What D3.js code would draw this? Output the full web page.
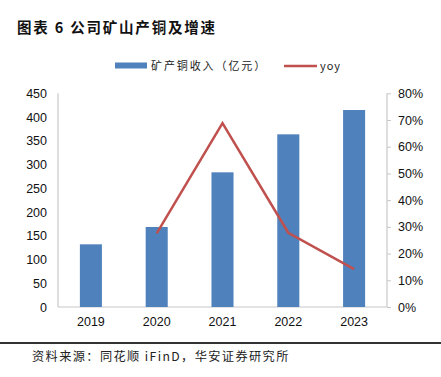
<!DOCTYPE html>
<html><head><meta charset="utf-8">
<script src="https://cdn.jsdelivr.net/npm/d3@7"></script>
<style>body{margin:0;background:#fff;}svg{display:block;}</style>
</head><body>
<svg id="c" width="441" height="377"></svg>
<script>
const years = ["2019","2020","2021","2022","2023"];
const revenue = [132, 168.5, 283.6, 363.6, 414.8];
const yoy = [null, 0.276, 0.688, 0.278, 0.142];
const leftTicks = [0,50,100,150,200,250,300,350,400,450];
const rightTicks = [0,0.1,0.2,0.3,0.4,0.5,0.6,0.7,0.8];

const svg = d3.select("#c");
const L = 58, R = 387, T = 93.3, B = 307;
const latin = "'Liberation Sans', Arial, sans-serif";
const cjk = "'Noto Sans CJK SC', sans-serif";

svg.append("text").attr("x",17).attr("y",32.5).attr("font-family",cjk).attr("font-weight","bold")
  .attr("font-size",14.5).attr("letter-spacing",1.8).attr("fill","#111").text("图表 6 公司矿山产铜及增速");

const x = d3.scaleBand().domain(years).range([L,R]).paddingInner(0.665).paddingOuter(0.3325);
const yL = d3.scaleLinear().domain([0,450]).range([B,T]);
const yR = d3.scaleLinear().domain([0,0.8]).range([B,T]);

// axes
const gl = svg.append("g").attr("transform",`translate(${L},0)`)
  .call(d3.axisLeft(yL).tickValues(leftTicks).tickSize(0).tickPadding(11));
const gr = svg.append("g").attr("transform",`translate(${R},0)`)
  .call(d3.axisRight(yR).tickValues(rightTicks).tickFormat(d3.format(".0%")).tickSize(4).tickPadding(7));
const gb = svg.append("g").attr("transform",`translate(0,${B})`)
  .call(d3.axisBottom(x).tickSize(0).tickPadding(10));
[gl,gr,gb].forEach(g=>{
  g.selectAll("path").attr("stroke","#c8c8c8").attr("stroke-width",1.2);
  g.selectAll("line").attr("stroke","#c8c8c8");
  g.selectAll("text").attr("font-family",latin).attr("font-size",12.5).attr("fill","#111");
});
gb.select("path").attr("d",`M${L},0H${R}`);
gl.select("path").attr("d",`M0,${B}V${T}`);
gr.select("path").attr("d",`M0,${B}V${T}`);

// bars
svg.append("g").selectAll("rect").data(years).join("rect")
  .attr("x",d=>x(d)).attr("width",x.bandwidth())
  .attr("y",(d,i)=>yL(revenue[i])).attr("height",(d,i)=>B-yL(revenue[i]))
  .attr("fill","#4f81bd");

// line
const pts = years.map((d,i)=>({x:x(d)+x.bandwidth()/2, v:yoy[i]})).filter(p=>p.v!==null);
svg.append("path").datum(pts)
  .attr("d",d3.line().x(p=>p.x).y(p=>yR(p.v)))
  .attr("fill","none").attr("stroke","#c0504d").attr("stroke-width",2.5);

// legend
svg.append("rect").attr("x",115).attr("y",62.5).attr("width",32).attr("height",6).attr("fill","#4f81bd");
svg.append("text").attr("x",151).attr("y",70).attr("font-family",cjk).attr("font-size",11)
  .attr("letter-spacing",1.9).attr("fill","#222").text("矿产铜收入（亿元）");
svg.append("line").attr("x1",284).attr("x2",317).attr("y1",66).attr("y2",66).attr("stroke","#c0504d").attr("stroke-width",2.5);
svg.append("text").attr("x",320).attr("y",70).attr("font-family",cjk).attr("font-size",11)
  .attr("letter-spacing",1).attr("fill","#222").text("yoy");

// footer
svg.append("line").attr("x1",0).attr("x2",441).attr("y1",343).attr("y2",343).attr("stroke","#333").attr("stroke-width",2);
svg.append("text").attr("x",32).attr("y",361).attr("font-family",cjk).attr("font-size",12.2)
  .attr("letter-spacing",1.4).attr("fill","#222").text("资料来源：同花顺 iFinD，华安证券研究所");
</script>
</body></html>
